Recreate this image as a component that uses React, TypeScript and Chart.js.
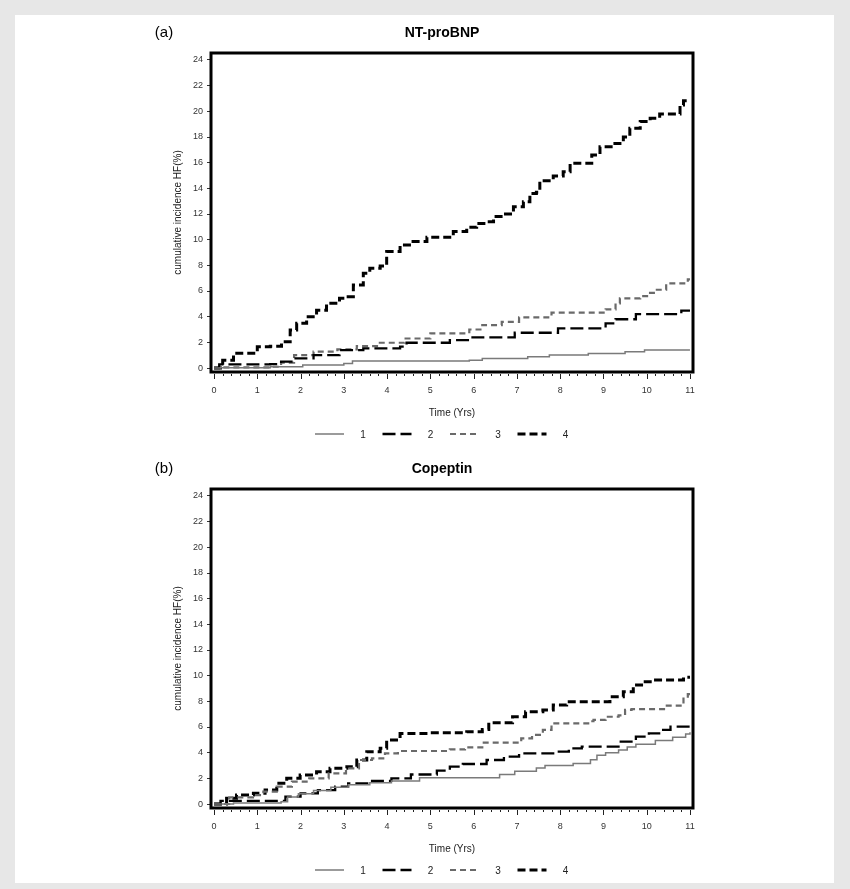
import React, { useEffect, useRef } from 'react';
import { Chart, registerables } from 'chart.js';

Chart.register(...registerables);

const FONT = '"Liberation Sans", Arial, Helvetica, sans-serif';

// ---- axis ticks / labels ----
const timeTicks = [0, 1, 2, 3, 4, 5, 6, 7, 8, 9, 10, 11];
const incidenceTicks = [0, 2, 4, 6, 8, 10, 12, 14, 16, 18, 20, 22, 24];
const groupLabels = ['1', '2', '3', '4'];

// ---- (a) NT-proBNP: [time (yrs), cumulative incidence HF (%)] ----
const ntproBNP_g1: [number, number][] = [
  [0, 0], [0.15, 0.03], [1.3, 0.1], [2.05, 0.23], [3.0, 0.36], [3.2, 0.55], [5.9, 0.6],
  [6.2, 0.75], [7.25, 0.88], [7.75, 1.01], [8.65, 1.14], [9.5, 1.27], [9.95, 1.4], [11, 1.4],
];
const ntproBNP_g2: [number, number][] = [
  [0, 0], [0.12, 0.28], [1.3, 0.3], [1.55, 0.5], [1.85, 0.75], [2.3, 1.0], [2.9, 1.4],
  [3.45, 1.53], [4.3, 1.66], [4.45, 1.97], [5.45, 2.18], [5.9, 2.39], [6.95, 2.75],
  [7.95, 3.09], [9.05, 3.48], [9.28, 3.8], [9.75, 4.2], [10.8, 4.47], [11, 4.47],
];
const ntproBNP_g3: [number, number][] = [
  [0, 0], [0.2, 0.05], [1.35, 0.1], [1.55, 0.41], [1.85, 1.0], [2.3, 1.27], [2.85, 1.45],
  [3.3, 1.71], [3.8, 1.97], [4.4, 2.3], [5.0, 2.7], [5.9, 3.0], [6.2, 3.35], [6.65, 3.6],
  [7.05, 3.95], [7.8, 4.31], [9.05, 4.57], [9.28, 5.04], [9.38, 5.43], [9.85, 5.6],
  [10.05, 5.85], [10.2, 6.1], [10.45, 6.6], [10.95, 6.9], [11, 6.9],
];
const ntproBNP_g4: [number, number][] = [
  [0, 0], [0.2, 0.6], [0.45, 1.15], [1.0, 1.65], [1.3, 1.7], [1.56, 2.05], [1.76, 2.96],
  [1.91, 3.48], [2.14, 4.0], [2.37, 4.5], [2.6, 5.04], [2.9, 5.43], [3.1, 5.56], [3.22, 6.47],
  [3.45, 7.38], [3.6, 7.77], [3.84, 7.95], [3.99, 9.07], [4.3, 9.59], [4.6, 9.85],
  [4.92, 10.19], [5.53, 10.63], [5.84, 10.96], [6.07, 11.27], [6.3, 11.4], [6.46, 11.8],
  [6.69, 12.0], [6.92, 12.57], [7.15, 12.96], [7.3, 13.6], [7.45, 13.7], [7.53, 14.6],
  [7.84, 14.96], [8.07, 15.3], [8.23, 15.95], [8.73, 16.6], [8.92, 17.25], [9.23, 17.5],
  [9.46, 18.0], [9.61, 18.68], [9.85, 19.2], [10.08, 19.46], [10.3, 19.8], [10.77, 20.5],
  [10.85, 20.83], [11, 20.83],
];

// ---- (b) Copeptin ----
const copeptin_g1: [number, number][] = [
  [0, 0], [0.45, 0.08], [1.55, 0.18], [1.7, 0.55], [1.95, 0.8], [2.3, 1.05], [2.7, 1.3],
  [3.1, 1.5], [3.6, 1.65], [4.1, 1.8], [4.75, 2.05], [6.6, 2.3], [6.95, 2.55], [7.45, 2.8],
  [7.65, 3.0], [8.3, 3.15], [8.7, 3.45], [8.85, 3.8], [9.05, 4.0], [9.35, 4.2], [9.55, 4.45],
  [9.75, 4.65], [10.2, 4.95], [10.6, 5.2], [10.9, 5.45], [11, 5.6],
];
const copeptin_g2: [number, number][] = [
  [0, 0], [0.15, 0.25], [1.65, 0.57], [2.0, 0.83], [2.4, 1.09], [2.8, 1.35], [3.1, 1.61],
  [3.6, 1.8], [4.1, 2.0], [4.55, 2.3], [5.15, 2.6], [5.45, 2.91], [5.75, 3.12], [6.3, 3.43],
  [6.7, 3.69], [7.05, 3.95], [7.9, 4.08], [8.2, 4.34], [8.5, 4.47], [9.4, 4.86], [9.75, 5.25],
  [10.05, 5.51], [10.35, 5.77], [10.55, 6.03], [11, 6.03],
];
const copeptin_g3: [number, number][] = [
  [0, 0], [0.35, 0.52], [0.9, 0.7], [1.14, 0.96], [1.45, 1.35], [1.8, 1.74], [2.2, 2.0],
  [2.65, 2.39], [3.05, 2.78], [3.35, 3.43], [3.65, 3.56], [3.95, 3.95], [4.25, 4.13],
  [5.45, 4.25], [5.8, 4.42], [6.2, 4.78], [7.1, 5.12], [7.35, 5.38], [7.6, 5.77], [7.8, 6.29],
  [8.7, 6.45], [8.77, 6.55], [9.05, 6.8], [9.35, 6.9], [9.5, 7.33], [9.65, 7.4], [10.4, 7.66],
  [10.85, 8.36], [10.95, 8.57], [11, 8.57],
];
const copeptin_g4: [number, number][] = [
  [0, 0], [0.29, 0.44], [0.52, 0.7], [0.91, 0.83], [1.18, 1.09], [1.45, 1.61], [1.68, 2.0],
  [1.99, 2.26], [2.37, 2.52], [2.68, 2.78], [3.07, 2.9], [3.3, 3.43], [3.53, 4.08],
  [3.84, 4.34], [3.99, 4.99], [4.3, 5.5], [5.0, 5.55], [5.84, 5.64], [6.2, 5.8], [6.35, 6.34],
  [6.9, 6.8], [7.2, 7.19], [7.6, 7.33], [7.84, 7.72], [8.15, 7.97], [9.15, 8.36], [9.46, 8.75],
  [9.69, 9.27], [9.92, 9.53], [10.15, 9.66], [10.85, 9.87], [11, 9.87],
];

// ---- styles per group ----
const groupStyles = [
  { color: '#7a7a7a', width: 1.5, dash: [] as number[] },
  { color: '#000000', width: 2.3, dash: [13, 5] },
  { color: '#6a6a6a', width: 2.2, dash: [6, 4] },
  { color: '#000000', width: 3, dash: [8, 4] },
];

const decorPlugin = {
  id: 'panelDecor',
  afterDatasetsDraw(chart: any, _args: any, opts: any) {
    const { ctx, chartArea: a, scales } = chart;
    const xs = scales.x;
    ctx.save();
    // frame
    ctx.strokeStyle = '#000';
    ctx.lineWidth = 3;
    ctx.setLineDash([]);
    ctx.strokeRect(a.left, a.top, a.right - a.left, a.bottom - a.top);
    // x tick marks (major + minor)
    ctx.lineWidth = 1;
    ctx.strokeStyle = '#222';
    for (let i = 0; i <= 55; i++) {
      const v = i / 5;
      const px = Math.round(xs.getPixelForValue(v)) + 0.5;
      const major = i % 5 === 0;
      ctx.beginPath();
      ctx.moveTo(px, a.bottom + 2);
      ctx.lineTo(px, a.bottom + (major ? 7 : 4));
      ctx.stroke();
    }
    // titles
    const cx = (a.left + a.right) / 2;
    ctx.fillStyle = '#000';
    ctx.textBaseline = 'middle';
    ctx.textAlign = 'center';
    ctx.font = `bold 14px ${FONT}`;
    ctx.fillText(opts.title, cx - 10, a.top - 20);
    ctx.font = `15px ${FONT}`;
    ctx.fillText(opts.tag, a.left - 47, a.top - 20);
    // legend
    const ly = a.bottom + 62;
    let sx = cx - 137;
    chart.data.datasets.forEach((ds: any) => {
      ctx.save();
      ctx.strokeStyle = ds.borderColor;
      ctx.lineWidth = ds.borderWidth;
      ctx.setLineDash(ds.borderDash || []);
      ctx.beginPath();
      ctx.moveTo(sx, ly);
      ctx.lineTo(sx + 29, ly);
      ctx.stroke();
      ctx.restore();
      ctx.fillStyle = '#222';
      ctx.font = `10px ${FONT}`;
      ctx.textAlign = 'center';
      ctx.fillText(ds.label, sx + 48, ly + 1);
      sx += 67.5;
    });
    ctx.restore();
  },
};

function makeConfig(groups: [number, number][][], tag: string, title: string): any {
  return {
    type: 'line',
    data: {
      datasets: groups.map((pts, i) => ({
        label: groupLabels[i],
        data: pts.map(([x, y]) => ({ x, y })),
        stepped: true,
        borderColor: groupStyles[i].color,
        borderWidth: groupStyles[i].width,
        borderDash: groupStyles[i].dash,
        pointRadius: 0,
        fill: false,
      })),
    },
    options: {
      responsive: false,
      animation: false,
      events: [],
      layout: { padding: { left: 0, right: 47, top: 38, bottom: 30 } },
      plugins: {
        legend: { display: false },
        title: { display: false },
        tooltip: { enabled: false },
        panelDecor: { tag, title },
      },
      scales: {
        x: {
          type: 'linear',
          min: -0.07,
          max: 11.07,
          afterBuildTicks: (s: any) => {
            s.ticks = timeTicks.map((v) => ({ value: v }));
          },
          afterFit: (s: any) => {
            s.height = 49;
          },
          grid: { display: false },
          border: { display: false },
          ticks: {
            autoSkip: false,
            maxRotation: 0,
            padding: 5,
            color: '#333',
            font: { family: FONT, size: 9 },
          },
          title: {
            display: true,
            text: 'Time (Yrs)',
            color: '#222',
            font: { family: FONT, size: 10 },
            padding: { top: 0, bottom: 2 },
          },
        },
        y: {
          type: 'linear',
          min: -0.31,
          max: 24.545,
          afterBuildTicks: (s: any) => {
            s.ticks = incidenceTicks.map((v) => ({ value: v }));
          },
          afterFit: (s: any) => {
            s.width = 71;
          },
          grid: { drawOnChartArea: false, drawTicks: true, tickLength: 4, color: '#333' },
          border: { display: false },
          ticks: { padding: 4, color: '#333', font: { family: FONT, size: 9 } },
          title: {
            display: true,
            text: 'cumulative incidence HF(%)',
            color: '#222',
            font: { family: FONT, size: 10 },
            padding: { top: 32, bottom: 0 },
          },
        },
      },
    },
    plugins: [decorPlugin],
  };
}

function Panel(props: { groups: [number, number][][]; tag: string; title: string; top: number }) {
  const ref = useRef<HTMLCanvasElement>(null);
  useEffect(() => {
    if (!ref.current) return;
    const chart = new Chart(ref.current, makeConfig(props.groups, props.tag, props.title));
    return () => chart.destroy();
  }, []);
  return (
    <canvas
      ref={ref}
      width={600}
      height={436}
      style={{ position: 'absolute', left: 140, top: props.top, width: 600, height: 436 }}
    />
  );
}

export default function App() {
  return (
    <div style={{ position: 'absolute', left: 0, top: 0, width: 850, height: 889, background: '#e7e7e7', overflow: 'hidden' }}>
      <div style={{ position: 'absolute', left: 15, top: 15, width: 819, height: 868, background: '#ffffff' }} />
      <Panel groups={[ntproBNP_g1, ntproBNP_g2, ntproBNP_g3, ntproBNP_g4]} tag="(a)" title="NT-proBNP" top={15} />
      <Panel groups={[copeptin_g1, copeptin_g2, copeptin_g3, copeptin_g4]} tag="(b)" title="Copeptin" top={451} />
    </div>
  );
}
